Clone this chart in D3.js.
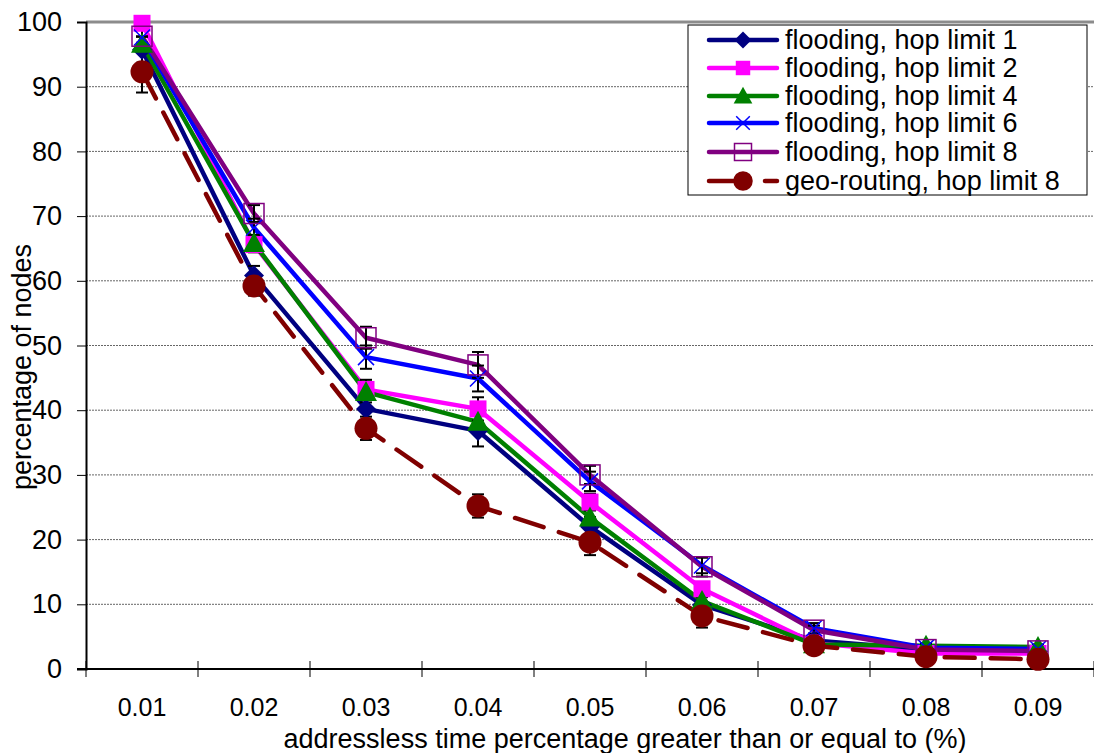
<!DOCTYPE html>
<html><head><meta charset="utf-8">
<script src="https://cdn.jsdelivr.net/npm/d3@7"></script>
<style>body{margin:0;background:#fff;} svg{display:block;font-family:"Liberation Sans",Arial,sans-serif;}</style>
</head><body>
<svg id="c" width="1094" height="753"></svg>
<script>
const categories = ["0.01","0.02","0.03","0.04","0.05","0.06","0.07","0.08","0.09"];
const yTicks = [0,10,20,30,40,50,60,70,80,90,100];
const seriesNames = ["flooding, hop limit 1","flooding, hop limit 2","flooding, hop limit 4","flooding, hop limit 6","flooding, hop limit 8","geo-routing, hop limit 8"];
const hop1 = [95.7, 60.8, 40.2, 36.8, 22.0, 9.9, 4.4, 3.0, 2.7];
const hop2 = [99.8, 65.6, 43.2, 40.2, 25.8, 12.4, 4.0, 2.4, 2.4];
const hop4 = [96.6, 65.8, 42.8, 38.2, 23.4, 10.5, 3.8, 3.6, 3.4];
const hop6 = [97.6, 68.2, 48.2, 44.9, 29.0, 16.0, 6.3, 3.3, 3.1];
const hop8 = [97.8, 70.4, 51.2, 47.0, 30.0, 15.8, 6.0, 3.0, 2.8];
const geo  = [92.3, 59.2, 37.2, 25.2, 19.6, 8.2, 3.6, 1.9, 1.5];
const err1 = [2.0, 1.5, 2.3, 2.4, 1.5, 1.2, 0.8, 0.5, 0.5];
const err2 = [1.0, 1.2, 1.5, 1.8, 1.3, 1.0, 0.6, 0.4, 0.4];
const err4 = [1.2, 1.3, 1.6, 1.8, 1.3, 1.0, 0.6, 0.4, 0.4];
const err6 = [1.2, 1.4, 1.8, 2.0, 1.5, 1.2, 0.8, 0.5, 0.5];
const err8 = [1.0, 1.3, 1.7, 2.0, 1.4, 1.5, 0.7, 0.5, 0.5];
const errG = [3.2, 1.5, 1.8, 1.8, 2.0, 1.8, 0.7, 0.5, 0.5];

const colors = ["#000080","#FF00FF","#008000","#0000FF","#800080","#800000"];
const markers = ["diamond","square","triangle","x","opensquare","circle"];
const values = [hop1,hop2,hop4,hop6,hop8,geo];
const errs = [err1,err2,err4,err6,err8,errG];

const svg = d3.select("#c");
const L = 86, R = 1094, T = 22, B = 669;
const x = d3.scaleBand().domain(categories).range([L,R]).padding(0);
const y = d3.scaleLinear().domain([0,100]).range([B,T]);
const cx = d => x(d) + x.bandwidth()/2;

// gridlines
svg.append("g").selectAll("line").data(yTicks.filter(t=>t>0 && t<100)).join("line")
  .attr("x1",L).attr("x2",R).attr("y1",d=>y(d)).attr("y2",d=>y(d))
  .attr("stroke","#666").attr("stroke-width",1).attr("stroke-dasharray","2,1");
svg.append("line").attr("x1",L).attr("x2",R).attr("y1",y(100)).attr("y2",y(100))
  .attr("stroke","#8c8c8c").attr("stroke-width",3);

// y axis
const yAxis = svg.append("g").attr("transform",`translate(${L},0)`)
  .call(d3.axisLeft(y).tickValues(yTicks).tickSize(9).tickPadding(15).tickFormat(d3.format("d")));
yAxis.select(".domain").attr("stroke","#000").attr("stroke-width",2);
yAxis.selectAll(".tick line").attr("stroke","#000");
yAxis.selectAll("text").attr("font-size",27).attr("fill","#000").style("font-family","Liberation Sans, Arial, sans-serif");

// x axis
const xg = svg.append("g").attr("transform",`translate(0,${B})`);
xg.append("line").attr("x1",L-9).attr("x2",R).attr("y1",0).attr("y2",0).attr("stroke","#000").attr("stroke-width",2);
xg.selectAll("line.tk").data(categories.concat(["end"])).join("line").attr("class","tk")
  .attr("x1",(d,i)=>L+i*x.bandwidth()).attr("x2",(d,i)=>L+i*x.bandwidth())
  .attr("y1",-8).attr("y2",8).attr("stroke","#000").attr("stroke-width",1);
xg.selectAll("text").data(categories).join("text")
  .attr("x",d=>cx(d)).attr("y",47).attr("text-anchor","middle").attr("font-size",25).text(d=>d);

// axis titles
svg.append("text").attr("x",625).attr("y",748).attr("text-anchor","middle").attr("font-size",27)
  .text("addressless time percentage greater than or equal to (%)");
svg.append("text").attr("transform","translate(31,367) rotate(-90)").attr("text-anchor","middle").attr("font-size",27)
  .text("percentage of nodes");

// lines
const line = d3.line().x((d,i)=>cx(categories[i])).y(d=>y(d));
values.forEach((vals,si)=>{
  svg.append("path").datum(vals).attr("d",line).attr("fill","none")
    .attr("stroke",colors[si]).attr("stroke-width",4.5).attr("stroke-linejoin","round")
    .attr("stroke-dasharray", si===5 ? "30,16" : null).attr("stroke-linecap", si===5 ? "round":"butt");
});

function drawMarker(g, type, px, py, col, scale){
  scale = scale||1;
  if(type==="diamond"){
    const s=10*scale;
    g.append("path").attr("d",`M${px},${py-s}L${px+s},${py}L${px},${py+s}L${px-s},${py}Z`).attr("fill",col);
  } else if(type==="square"){
    const s=8.5*scale;
    g.append("rect").attr("x",px-s).attr("y",py-s).attr("width",2*s).attr("height",2*s).attr("fill",col);
  } else if(type==="triangle"){
    const s=11*scale;
    g.append("path").attr("d",`M${px},${py-s}L${px+s},${py+s*0.8}L${px-s},${py+s*0.8}Z`).attr("fill",col);
  } else if(type==="x"){
    const s=8*scale;
    g.append("path").attr("d",`M${px-s},${py-s}L${px+s},${py+s}M${px+s},${py-s}L${px-s},${py+s}`).attr("stroke",col).attr("stroke-width",1.5);
  } else if(type==="opensquare"){
    const s=10*scale;
    g.append("rect").attr("x",px-s).attr("y",py-s).attr("width",2*s).attr("height",2*s).attr("fill","none").attr("stroke",col).attr("stroke-width",1.5);
  } else if(type==="circle"){
    g.append("circle").attr("cx",px).attr("cy",py).attr("r",11.5*scale).attr("fill",col);
  }
}

// error bars + markers
values.forEach((vals,si)=>{
  const g = svg.append("g");
  vals.forEach((v,i)=>{
    const px = cx(categories[i]);
    const e = errs[si][i];
    const y1 = y(v+e), y2 = y(Math.max(0,v-e));
    g.append("line").attr("x1",px).attr("x2",px).attr("y1",y1).attr("y2",y2).attr("stroke","#000").attr("stroke-width",2);
    g.append("line").attr("x1",px-6).attr("x2",px+6).attr("y1",y1).attr("y2",y1).attr("stroke","#000").attr("stroke-width",2);
    g.append("line").attr("x1",px-6).attr("x2",px+6).attr("y1",y2).attr("y2",y2).attr("stroke","#000").attr("stroke-width",2);
  });
});
values.forEach((vals,si)=>{
  const g = svg.append("g");
  vals.forEach((v,i)=>drawMarker(g, markers[si], cx(categories[i]), y(v), colors[si]));
});

// legend
const lg = svg.append("g");
lg.append("rect").attr("x",688).attr("y",25).attr("width",399).attr("height",170)
  .attr("fill","#fff").attr("stroke","#000").attr("stroke-width",1);
const rowY = [40,68,96,123,152,181];
seriesNames.forEach((n,i)=>{
  const yy = rowY[i];
  if(i===5){
    lg.append("line").attr("x1",709).attr("x2",743).attr("y1",yy).attr("y2",yy).attr("stroke",colors[i]).attr("stroke-width",4.5).attr("stroke-linecap","round");
    lg.append("line").attr("x1",765).attr("x2",777).attr("y1",yy).attr("y2",yy).attr("stroke",colors[i]).attr("stroke-width",4.5).attr("stroke-linecap","round");
  } else {
    lg.append("line").attr("x1",709).attr("x2",777).attr("y1",yy).attr("y2",yy).attr("stroke",colors[i]).attr("stroke-width",4.5).attr("stroke-linecap","round");
  }
  drawMarker(lg, markers[i], 743, yy, colors[i], 0.85);
  lg.append("text").attr("x",785).attr("y",yy+9).attr("font-size",27).text(n);
});
</script>
</body></html>
